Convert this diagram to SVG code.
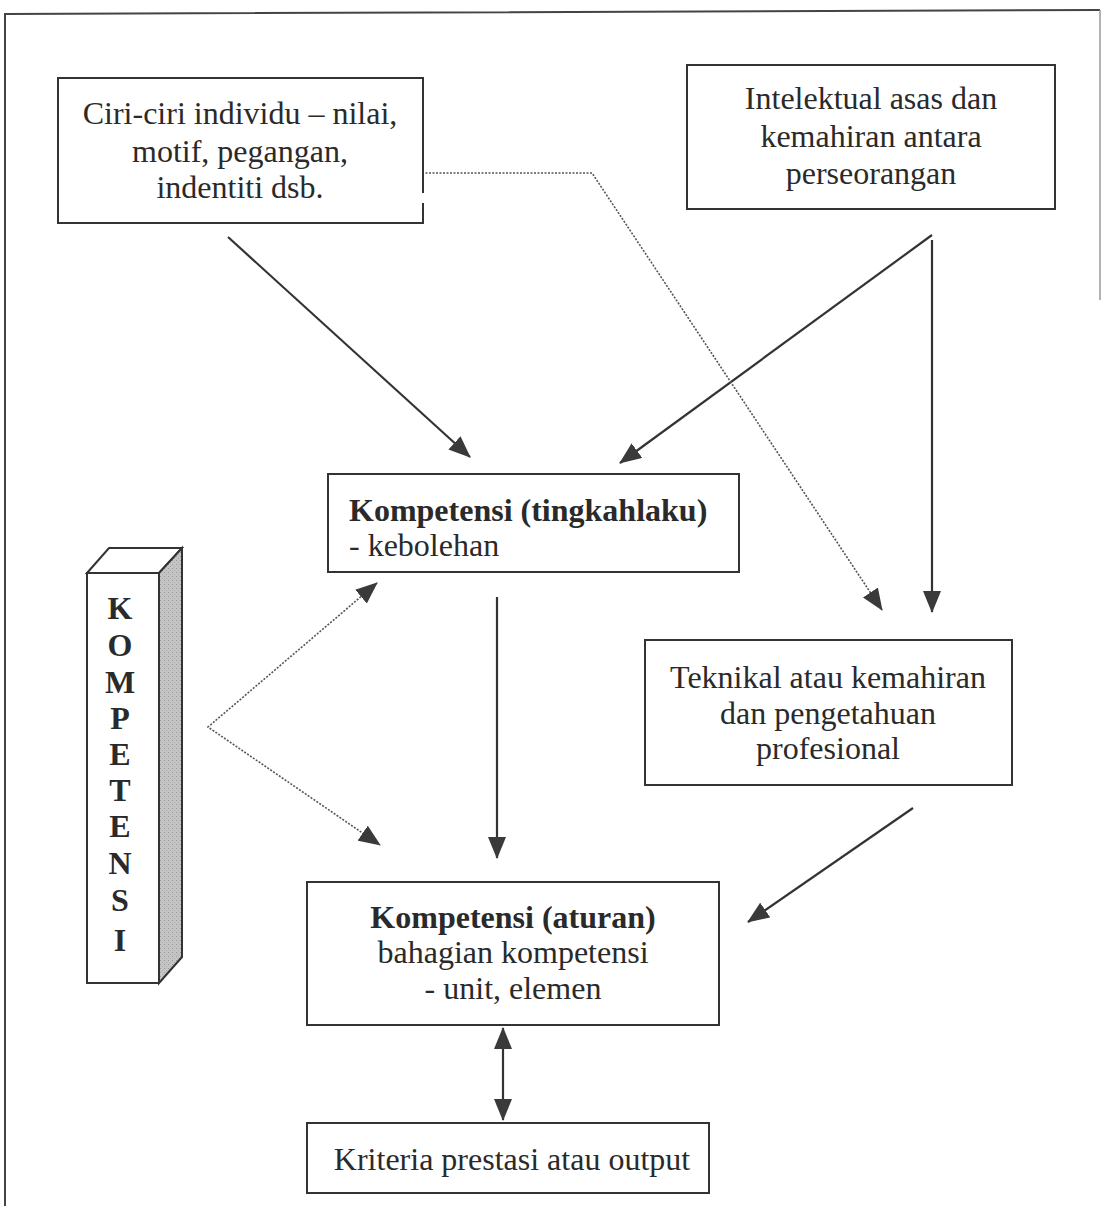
<svg xmlns="http://www.w3.org/2000/svg" width="1103" height="1206" viewBox="0 0 1103 1206">
<style>
.box{fill:#fff;stroke:#333;stroke-width:2}
.t{font-family:"Liberation Serif","Times New Roman",serif;font-size:32px;fill:#2a2a2a}
.c{text-anchor:middle}
.b{font-weight:bold}
.ar{fill:none;stroke:#333;stroke-width:2.2}
.dot{fill:none;stroke:#555;stroke-width:1.6;stroke-dasharray:2 1.5}
</style>
<defs>
<marker id="ah" viewBox="0 0 22 18" refX="21" refY="9" markerWidth="22" markerHeight="18" markerUnits="userSpaceOnUse" orient="auto-start-reverse">
<path d="M0,0 L22,9 L0,18 z" fill="#3a3a3a"/>
</marker>
<pattern id="stip" width="4" height="4" patternUnits="userSpaceOnUse">
<rect width="4" height="4" fill="#c4c4c4"/>
<rect x="0" y="0" width="1" height="1" fill="#999"/>
<rect x="2" y="2" width="1" height="1" fill="#aaa"/>
</pattern>
</defs>
<rect width="1103" height="1206" fill="#fff"/>
<path d="M5,1206 V14 L1100,10" fill="none" stroke="#444" stroke-width="2"/>
<path d="M1100,10 V300" fill="none" stroke="#999" stroke-width="1.5"/>

<g id="connectors">
<path class="ar" d="M228,237 L470,457" marker-end="url(#ah)"/>
<path class="ar" d="M932,235 L620,463" marker-end="url(#ah)"/>
<path class="ar" d="M932,240 V612" marker-end="url(#ah)"/>
<path class="dot" d="M422,173 H592 L882,610" marker-end="url(#ah)"/>
<path class="ar" d="M497,597 V858" marker-end="url(#ah)"/>
<path class="ar" d="M913,808 L748,922" marker-end="url(#ah)"/>
<path class="dot" d="M377,583 L208,727 L380,845" marker-start="url(#ah)" marker-end="url(#ah)"/>
<path class="ar" d="M503,1028 V1120" marker-start="url(#ah)" marker-end="url(#ah)"/>
</g>

<g id="n-ciri">
<path class="box" d="M423,193 V78 H58 V223 H423 V203"/>
<text class="t c" x="240" y="124">Ciri-ciri individu – nilai,</text>
<text class="t c" x="240" y="162">motif, pegangan,</text>
<text class="t c" x="240" y="198">indentiti dsb.</text>
</g>

<g id="n-intelektual">
<rect class="box" x="687" y="65" width="368" height="144"/>
<text class="t c" x="871" y="109">Intelektual asas dan</text>
<text class="t c" x="871" y="147">kemahiran antara</text>
<text class="t c" x="871" y="184">perseorangan</text>
</g>

<g id="n-tingkahlaku">
<rect class="box" x="328" y="474" width="411" height="98"/>
<text class="t b" x="349" y="521">Kompetensi (tingkahlaku)</text>
<text class="t" x="349" y="556">- kebolehan</text>
</g>

<g id="n-teknikal">
<rect class="box" x="645" y="640" width="367" height="145"/>
<text class="t c" x="828" y="688">Teknikal atau kemahiran</text>
<text class="t c" x="828" y="724">dan pengetahuan</text>
<text class="t c" x="828" y="759">profesional</text>
</g>

<g id="n-aturan">
<rect class="box" x="307" y="882" width="412" height="143"/>
<text class="t c b" x="513" y="928">Kompetensi (aturan)</text>
<text class="t c" x="513" y="963">bahagian kompetensi</text>
<text class="t c" x="513" y="999">- unit, elemen</text>
</g>

<g id="n-kriteria">
<rect class="box" x="307" y="1123" width="402" height="70"/>
<text class="t c" x="512" y="1170">Kriteria prestasi atau output</text>
</g>

<g id="n-pillar">
<path d="M87,573 L109,548 H182 L159,573 z" fill="#fff" stroke="#333" stroke-width="2"/>
<path d="M159,573 L182,548 V957 L159,983 z" fill="url(#stip)" stroke="#333" stroke-width="2"/>
<rect x="87" y="573" width="72" height="410" fill="#fff" stroke="#333" stroke-width="2"/>
<g class="t c b" font-size="30">
<text x="120" y="619">K</text>
<text x="120" y="656">O</text>
<text x="120" y="693">M</text>
<text x="120" y="729">P</text>
<text x="120" y="765">E</text>
<text x="120" y="801">T</text>
<text x="120" y="837">E</text>
<text x="120" y="874">N</text>
<text x="120" y="911">S</text>
<text x="120" y="951">I</text>
</g>
</g>
</svg>
